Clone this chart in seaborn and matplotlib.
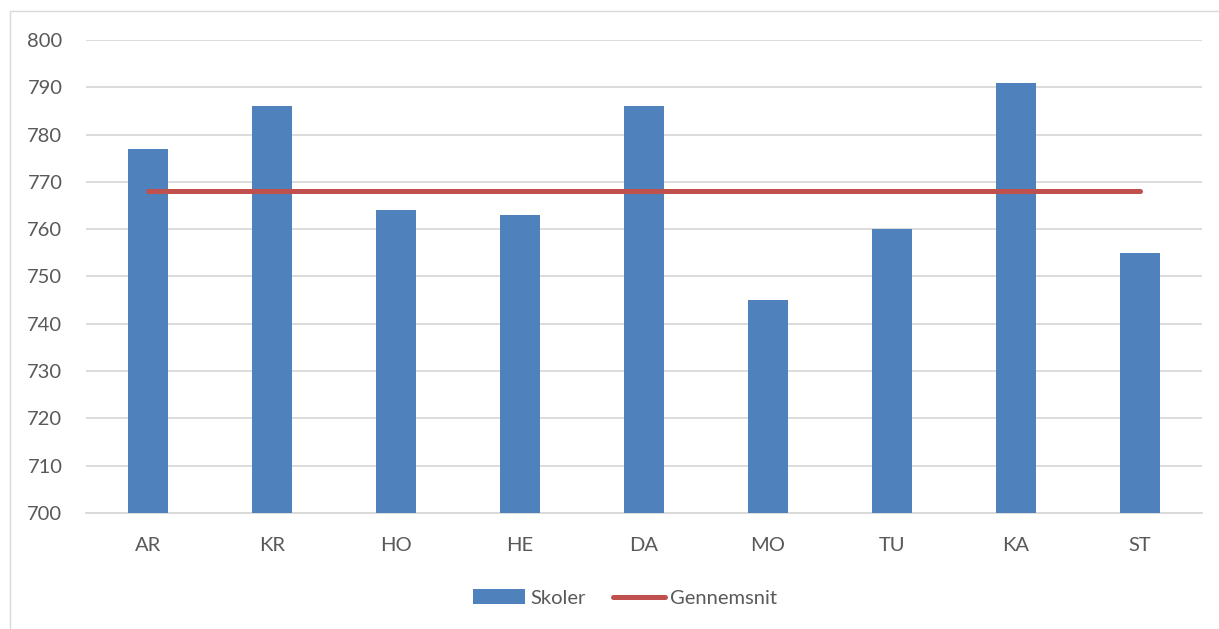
import matplotlib
matplotlib.use("Agg")
import matplotlib.pyplot as plt
import seaborn as sns
import pandas as pd
from matplotlib.lines import Line2D
from matplotlib.patches import Patch

categories = ["AR", "KR", "HO", "HE", "DA", "MO", "TU", "KA", "ST"]
skoler = [777, 786, 764, 763, 786, 745, 760, 791, 755]
gennemsnit = [768, 768, 768, 768, 768, 768, 768, 768, 768]
yticks = [700, 710, 720, 730, 740, 750, 760, 770, 780, 790, 800]

sns.set_theme(style="white")
plt.rcParams["font.family"] = ["Lato", "DejaVu Sans"]

W, H = 1219, 629
fig = plt.figure(figsize=(W / 100, H / 100), dpi=100)
ax = fig.add_axes([86 / W, 1 - 513 / H, (1202 - 86) / W, (513 - 40) / H])

df = pd.DataFrame({"cat": categories, "Skoler": skoler, "Gennemsnit": gennemsnit})

sns.barplot(data=df, x="cat", y="Skoler", color="#4F81BD", saturation=1,
            width=0.315, ax=ax, zorder=2, linewidth=0)
sns.lineplot(data=df, x="cat", y="Gennemsnit", color="#C0504D", linewidth=3.6,
             ax=ax, zorder=3, solid_capstyle="round")

ax.set_ylim(700, 800)
ax.set_xlim(-0.5, len(categories) - 0.5)
ax.set_yticks(yticks)
ax.set_yticklabels([str(v) for v in yticks])
ax.set_xlabel("")
ax.set_ylabel("")
for s in ["top", "right", "left"]:
    ax.spines[s].set_visible(False)
ax.spines["bottom"].set_color("#D9D9D9")
ax.spines["bottom"].set_linewidth(1.3)
ax.spines["bottom"].set_zorder(1)
ax.yaxis.grid(True, color="#D9D9D9", linewidth=1.3, zorder=0)
ax.set_axisbelow(True)
ax.tick_params(axis="both", length=0, labelsize=14.5, labelcolor="#595959")
ax.tick_params(axis="y", pad=17)
ax.tick_params(axis="x", pad=17)
if ax.get_legend():
    ax.get_legend().remove()

handles = [Patch(facecolor="#4F81BD", edgecolor="none"),
           Line2D([0], [0], color="#C0504D", linewidth=3.6, solid_capstyle="round")]
fig.legend(handles, ["Skoler", "Gennemsnit"], loc="center",
           bbox_to_anchor=(625 / W, 1 - 598 / H), ncol=2, frameon=False,
           fontsize=14.5, labelcolor="#595959", handlelength=2.6, handleheight=0.7,
           handletextpad=0.25, columnspacing=1.35)

# outer chart frame
fig.add_artist(Line2D([10 / W, 10 / W], [0, 1 - 11 / H], color="#D9D9D9",
                      linewidth=1.0, transform=fig.transFigure))
fig.add_artist(Line2D([10 / W, 1], [1 - 11 / H, 1 - 11 / H], color="#D9D9D9",
                      linewidth=1.0, transform=fig.transFigure))

fig.savefig("out.png", dpi=100)
